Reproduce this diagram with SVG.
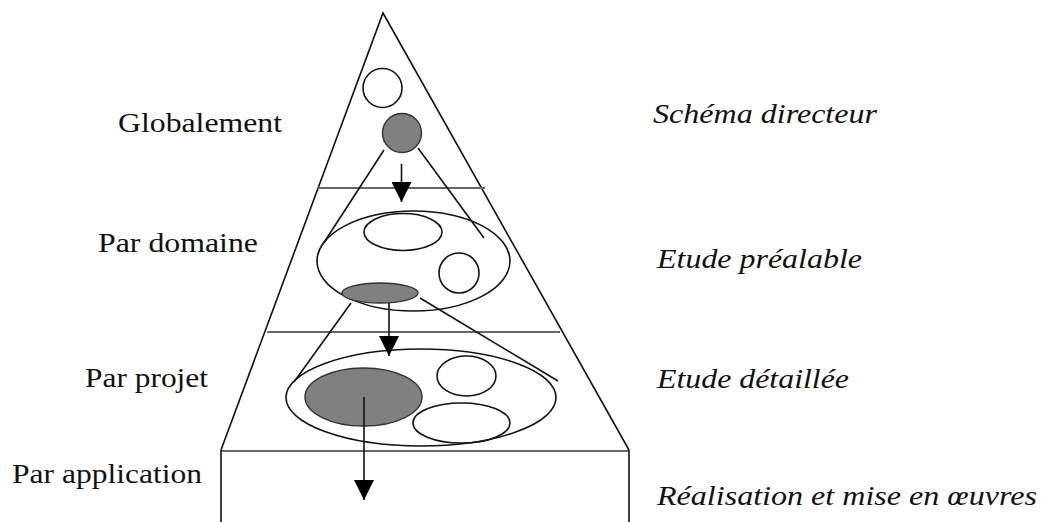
<svg xmlns="http://www.w3.org/2000/svg" width="1041" height="522" viewBox="0 0 1041 522">
<style>
.ln{stroke:#111;stroke-width:1.6;fill:none}
.sep{stroke:#666;stroke-width:2.2;fill:none}
.open{stroke:#111;stroke-width:1.6;fill:none}
.grey{stroke:#333;stroke-width:1.4;fill:#808080}
.lbl{font-family:"Liberation Serif","Times New Roman",Times,serif;font-size:28px;fill:#111}
.it{font-family:"Liberation Serif","Times New Roman",Times,serif;font-size:28px;font-style:italic;fill:#111}
</style>
<defs>
<marker id="ah" markerWidth="20" markerHeight="20" refX="20" refY="10" orient="auto" markerUnits="userSpaceOnUse" viewBox="0 0 20 20">
<path d="M0,0 L20,10 L0,20 Z" fill="#000"/>
</marker>
</defs>
<rect width="1041" height="522" fill="#fff"/>
<g id="pyramid">
<path class="ln" d="M221,450 L383,13 L629,450"/>
<line class="sep" x1="318" y1="188" x2="485" y2="188"/>
<line class="sep" x1="267" y1="332" x2="560" y2="332"/>
<line class="sep" x1="221" y1="451" x2="629" y2="451"/>
<line class="ln" x1="221" y1="450" x2="221" y2="522"/>
<line class="ln" x1="629" y1="450" x2="629" y2="522"/>
</g>
<g id="niveau-global">
<circle class="open" cx="382.5" cy="88" r="19.5"/>
<circle class="grey" cx="402" cy="133" r="19.5"/>
</g>
<g id="niveau-domaine">
<ellipse class="open" cx="413.5" cy="261" rx="96.5" ry="50"/>
<ellipse class="open" cx="403" cy="232" rx="39" ry="18.5"/>
<circle class="open" cx="459" cy="273" r="20"/>
<ellipse class="grey" cx="380" cy="293" rx="38" ry="10"/>
</g>
<g id="niveau-projet">
<ellipse class="open" cx="421" cy="397.5" rx="135" ry="48.5"/>
<ellipse class="grey" cx="363.5" cy="397" rx="58.5" ry="29"/>
<ellipse class="open" cx="466.5" cy="376" rx="29.5" ry="20"/>
<ellipse class="open" cx="461.5" cy="423" rx="48.5" ry="20"/>
</g>
<g id="connectors">
<line class="ln" x1="384" y1="150" x2="323" y2="244"/>
<line class="ln" x1="418" y1="148" x2="484" y2="238"/>
<line class="ln" x1="351" y1="303" x2="294" y2="382"/>
<line class="ln" x1="420" y1="298" x2="558" y2="381"/>
<line class="ln" x1="401.5" y1="164" x2="401.5" y2="202" marker-end="url(#ah)"/>
<line class="ln" x1="389" y1="303" x2="389" y2="356" marker-end="url(#ah)"/>
<line class="ln" x1="364" y1="397" x2="364" y2="500" marker-end="url(#ah)"/>
</g>
<g id="labels-gauche">
<text class="lbl" x="118" y="132" textLength="164" lengthAdjust="spacingAndGlyphs">Globalement</text>
<text class="lbl" x="98" y="252" textLength="160" lengthAdjust="spacingAndGlyphs">Par domaine</text>
<text class="lbl" x="85" y="387" textLength="123" lengthAdjust="spacingAndGlyphs">Par projet</text>
<text class="lbl" x="12" y="483" textLength="190" lengthAdjust="spacingAndGlyphs">Par application</text>
</g>
<g id="labels-droite">
<text class="it" x="653" y="123" textLength="224" lengthAdjust="spacingAndGlyphs">Schéma directeur</text>
<text class="it" x="657" y="268" textLength="205" lengthAdjust="spacingAndGlyphs">Etude préalable</text>
<text class="it" x="657" y="388" textLength="192" lengthAdjust="spacingAndGlyphs">Etude détaillée</text>
<text class="it" x="657" y="505" textLength="380" lengthAdjust="spacingAndGlyphs">Réalisation et mise en œuvres</text>
</g>
</svg>
